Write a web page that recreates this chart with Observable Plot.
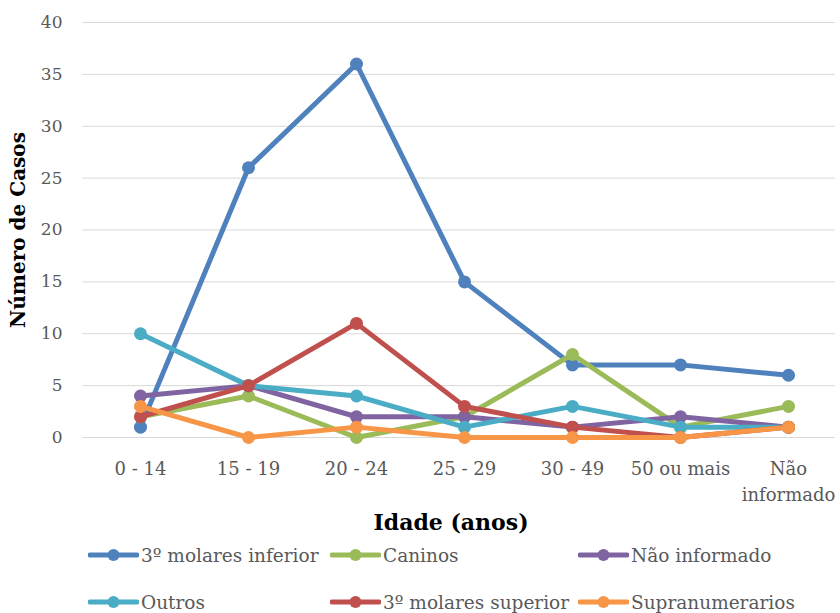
<!DOCTYPE html>
<html>
<head>
<meta charset="utf-8">
<script src="https://cdn.jsdelivr.net/npm/d3@7"></script>
<script src="https://cdn.jsdelivr.net/npm/@observablehq/plot@0.6"></script>
<style>
  body { margin: 0; background: #fff; }
  #wrap { position: relative; width: 840px; height: 613px; overflow: hidden; font-family: "DejaVu Serif", serif; }
  #legend { position: relative; width: 840px; height: 73px; }
  .item { position: absolute; display: flex; align-items: center; font-size: 18.5px; color: #595959; white-space: nowrap; }
  .item svg { margin-right: 2px; }
</style>
</head>
<body>
<div id="wrap"></div>
<script>
const categories = ["0 - 14", "15 - 19", "20 - 24", "25 - 29", "30 - 49", "50 ou mais", "Não informado"];
const seriesNames = ["3º molares inferior", "Caninos", "Não informado", "Outros", "3º molares superior", "Supranumerarios"];
const molaresInferior = [1, 26, 36, 15, 7, 7, 6];
const caninos = [2, 4, 0, 2, 8, 1, 3];
const naoInformado = [4, 5, 2, 2, 1, 2, 1];
const outros = [10, 5, 4, 1, 3, 1, 1];
const molaresSuperior = [2, 5, 11, 3, 1, 0, 1];
const supranumerarios = [3, 0, 1, 0, 0, 0, 1];
const yTicks = [0, 5, 10, 15, 20, 25, 30, 35, 40];
const colors = ["#4F81BD", "#9BBB59", "#8064A2", "#4BACC6", "#C0504D", "#F79646"];

const seriesValues = [molaresInferior, caninos, naoInformado, outros, molaresSuperior, supranumerarios];
const data = seriesNames.map((name, i) => categories.map((c, j) => ({series: name, cat: c, value: seriesValues[i][j]})));

const marks = [Plot.ruleY(yTicks, {stroke: "#d9d9d9", strokeWidth: 1})];
data.forEach(rows => {
  marks.push(Plot.line(rows, {x: "cat", y: "value", stroke: "series", strokeWidth: 5, strokeLinejoin: "round", strokeLinecap: "round"}));
  marks.push(Plot.dot(rows, {x: "cat", y: "value", fill: "series", r: 6.5}));
});
marks.push(Plot.axisY(yTicks, {tickSize: 0, tickPadding: 20, fontSize: 17, fill: "#595959", label: null}));
marks.push(Plot.axisX({tickSize: 0, tickPadding: 20, fontSize: 18, lineHeight: 1.4, fill: "#595959", label: null,
  tickFormat: d => d === "Não informado" ? "Não\ninformado" : d}));
marks.push(Plot.text(["Número de Casos"], {frameAnchor: "left", textAnchor: "middle", dx: -64, rotate: -90, fontSize: 20, fontWeight: "bold", fill: "#000"}));
marks.push(Plot.text(["Idade (anos)"], {frameAnchor: "bottom", dy: 92, dx: -8, fontSize: 22, fontWeight: "bold", fill: "#000"}));

const chart = Plot.plot({
  width: 840,
  height: 540,
  marginLeft: 82,
  marginRight: 5,
  marginTop: 22,
  marginBottom: 103,
  style: {fontFamily: "DejaVu Serif", background: "#fff", overflow: "visible"},
  x: {type: "point", domain: categories, range: [138, 790], padding: 0},
  y: {domain: [0, 40]},
  color: {domain: seriesNames, range: colors},
  marks
});
const wrap = document.getElementById("wrap");
wrap.appendChild(chart);

const legendPos = [[88, 15], [330, 15], [578, 15], [88, 62], [330, 62], [578, 62]];
const legend = document.createElement("div");
legend.id = "legend";
seriesNames.forEach((name, i) => {
  const it = document.createElement("div");
  it.className = "item";
  it.style.left = legendPos[i][0] + "px";
  it.style.top = (legendPos[i][1] - 12) + "px";
  it.style.height = "24px";
  it.innerHTML = `<svg width="51" height="14"><line x1="2" y1="7" x2="49" y2="7" stroke="${colors[i]}" stroke-width="5" stroke-linecap="round"/><circle cx="25.5" cy="7" r="6" fill="${colors[i]}"/></svg><span>${name}</span>`;
  legend.appendChild(it);
});
wrap.appendChild(legend);
</script>
</body>
</html>
